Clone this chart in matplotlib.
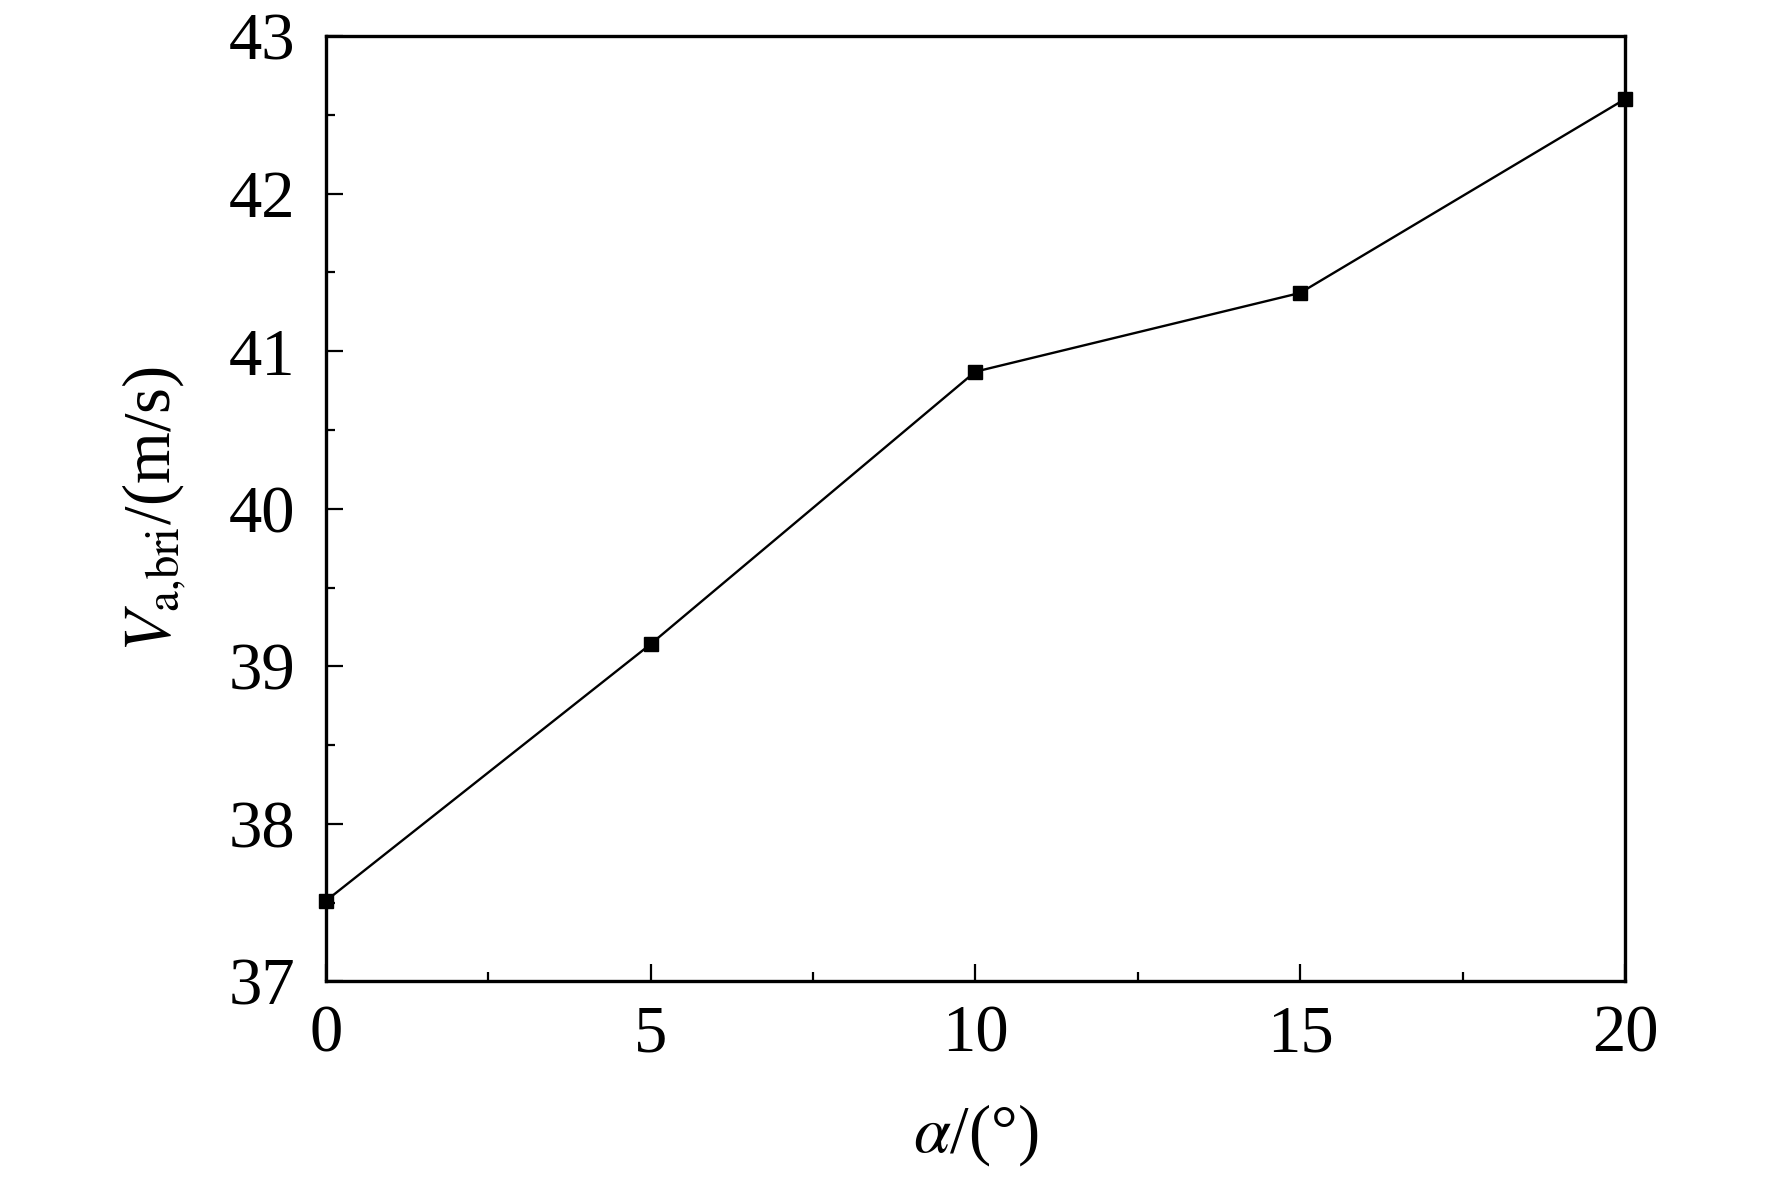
import matplotlib.pyplot as plt
from matplotlib.ticker import MultipleLocator

# angle alpha (deg) and the speed
alpha = [0, 5, 10, 15, 20]
v_abri = [37.51, 39.14, 40.87, 41.37, 42.60]

x_ticks = [0, 5, 10, 15, 20]
y_ticks = [37, 38, 39, 40, 41, 42, 43]

plt.rcParams['font.family'] = ['Liberation Serif', 'DejaVu Serif']
plt.rcParams['mathtext.fontset'] = 'stix'

fig = plt.figure(figsize=(17.72, 11.77), dpi=100)
ax = fig.add_axes([0.1838, 0.1662, 0.7332, 0.8031])

ax.plot(alpha, v_abri, color='black', lw=1.7, marker='s', ms=9.5,
        clip_on=False, zorder=3)

ax.set_xlim(0, 20)
ax.set_ylim(37, 43)
ax.set_xticks(x_ticks)
ax.set_yticks(y_ticks)
ax.xaxis.set_minor_locator(MultipleLocator(2.5))
ax.yaxis.set_minor_locator(MultipleLocator(0.5))

ax.tick_params(which='both', direction='in', top=False, right=False,
               width=1.6, labelsize=48)
ax.tick_params(which='major', length=12)
ax.tick_params(which='minor', length=6.5)
ax.tick_params(axis='x', pad=17)
ax.tick_params(axis='y', pad=22)

for s in ax.spines.values():
    s.set_linewidth(2.4)

ax.set_xlabel(r'$\mathit{\alpha}$/(°)', fontsize=48, labelpad=26)
ax.set_ylabel(r'$\mathit{V}_{\mathrm{a{,}bri}}$/(m/s)', fontsize=48, labelpad=29)

fig.savefig('out.png', dpi=100)
